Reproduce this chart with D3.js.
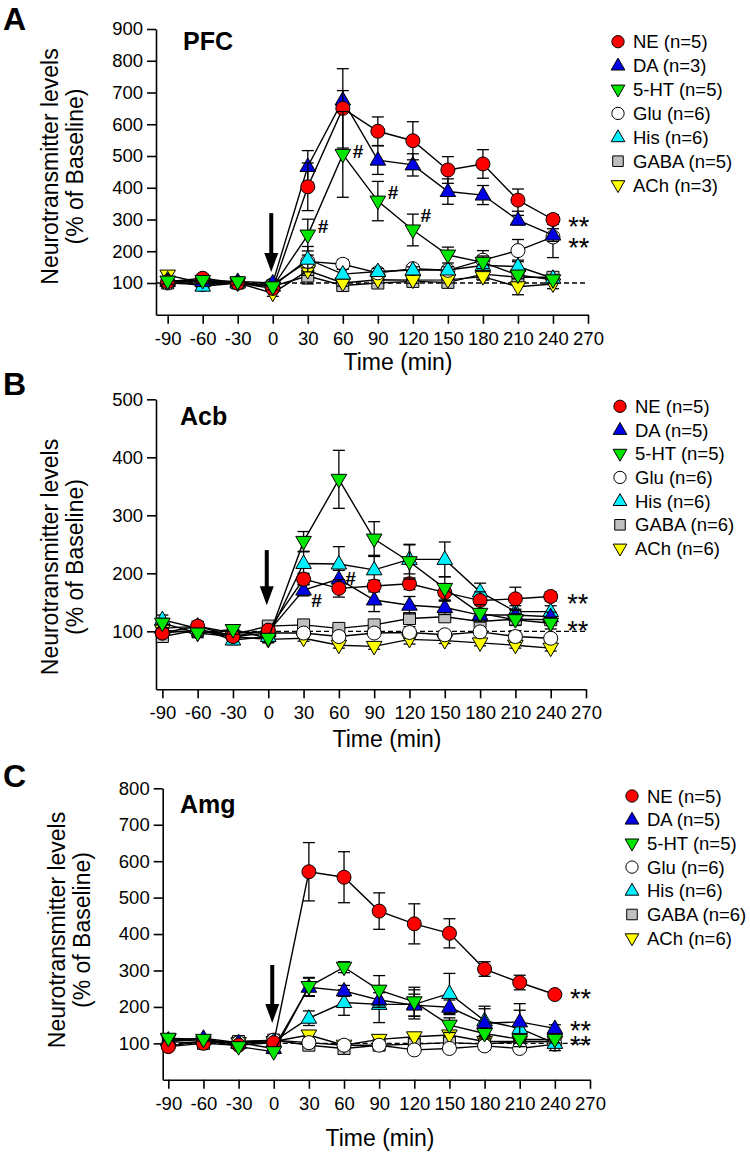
<!DOCTYPE html>
<html><head><meta charset="utf-8">
<script src="https://cdn.jsdelivr.net/npm/d3@7"></script>
<style>body{margin:0;background:#fff} svg{display:block;font-family:Arial,"Liberation Sans",sans-serif}</style>
</head><body><svg id="c" width="750" height="1155"></svg>
<script>
// ---------- shared data ----------
const times = [-90,-60,-30,0,30,60,90,120,150,180,210,240];
const xTickValues = [-90,-60,-30,0,30,60,90,120,150,180,210,240,270];
const seriesNames = ["NE","DA","5-HT","Glu","His","GABA","ACh"];
const seriesColors = ["#ff0000","#0000e6","#00e600","#ffffff","#00f0ff","#c0c0c0","#ffff00"];
const seriesShapes = ["circle","up","down","circle","up","square","down"];
const drawOrder = [5,6,3,4,1,0,2]; // bottom -> top: GABA, ACh, Glu, His, DA, NE, 5-HT

// ---------- A: PFC ----------
const pfcN = [5,3,5,6,6,5,3];
const pfcYTicks = [100,200,300,400,500,600,700,800,900];
const pfcNE   = [104,115,100,83,403,650,578,548,456,475,361,300];
const pfcNEe  = [10,12,10,10,75,125,45,60,42,45,35,15];
const pfcDA   = [105,105,105,100,467,676,487,472,388,377,298,251];
const pfcDAe  = [10,10,10,10,50,30,45,35,40,30,15,20];
const pfc5HT  = [106,108,104,88,251,505,358,267,188,165,125,110];
const pfc5HTe = [10,10,10,10,50,135,62,50,25,20,10,10];
const pfcGlu  = [100,95,100,95,168,159,132,145,140,172,202,245];
const pfcGlue = [10,10,10,10,20,15,10,10,10,30,35,65];
const pfcHis  = [110,90,100,90,175,128,136,141,141,155,152,115];
const pfcHise = [10,10,10,10,40,15,10,10,10,15,20,10];
const pfcGABA = [100,100,100,90,122,92,100,105,102,128,118,118];
const pfcGABAe= [10,10,10,10,25,10,10,10,10,10,10,10];
const pfcACh  = [125,100,100,68,139,100,110,109,110,120,88,97];
const pfcAChe = [10,10,10,10,15,10,10,10,10,10,25,15];
const pfcHash = [[43,277],[73,514],[103,384],[131,314]];
const pfcStars = [[262,300],[262,235]];
const pfcArrow = [320,135];

// ---------- B: Acb ----------
const acbN = [5,5,5,6,6,6,6];
const acbYTicks = [100,200,300,400,500];
const acbNE   = [97,109,91,102,190,174,178,182,167,153,156,160];
const acbNEe  = [8,8,8,8,10,15,10,10,15,15,20,8];
const acbDA   = [105,109,97,99,171,190,154,145,141,128,128,125];
const acbDAe  = [8,8,8,8,10,15,20,15,12,10,10,8];
const acb5HT  = [114,97,103,88,255,362,259,220,174,131,120,114];
const acb5HTe = [8,8,8,8,17,50,30,30,20,15,10,10];
const acbGlu  = [97,102,91,97,97,91,97,98,94,99,91,88];
const acbGlue = [5,5,5,5,5,5,5,10,5,5,10,5];
const acbHis  = [120,105,85,91,217,216,206,224,224,168,134,134];
const acbHise = [8,8,8,8,20,30,25,25,30,15,10,10];
const acbGABA = [91,102,94,109,111,105,111,122,125,117,121,120];
const acbGABAe= [5,5,5,5,5,5,5,5,5,5,5,5];
const acbACh  = [102,97,91,86,88,76,74,86,84,80,76,71];
const acbAChe = [5,5,5,5,5,5,5,8,5,5,5,5];
const acbHash = [[41,154],[70,191]];
const acbStars = [[263,160],[263,114]];
const acbArrow = [240,145];

// ---------- C: Amg ----------
const amgN = [5,5,5,6,6,6,6];
const amgYTicks = [100,200,300,400,500,600,700,800];
const amgNE   = [91,100,95,102,571,556,463,428,402,304,267,234];
const amgNEe  = [5,5,5,5,80,70,50,55,40,20,20,5];
const amgDA   = [109,114,102,86,254,244,219,205,199,155,159,141];
const amgDAe  = [5,5,5,5,25,15,20,30,20,40,50,10];
const amg5HT  = [114,111,91,77,256,309,246,214,150,127,111,111];
const amg5HTe = [5,5,5,5,25,15,40,40,20,15,10,10];
const amgGlu  = [93,105,102,109,102,95,95,82,86,93,86,98];
const amgGlue = [5,5,5,5,5,5,5,5,5,5,5,5];
const amgHis  = [107,111,100,105,169,212,207,207,237,162,141,100];
const amgHise = [5,5,5,5,20,35,50,40,55,40,50,20];
const amgGABA = [105,100,105,109,95,86,95,98,102,98,105,105];
const amgGABAe= [5,5,5,5,5,5,5,5,5,5,5,5];
const amgACh  = [111,105,102,105,123,95,111,118,123,105,105,105];
const amgAChe = [5,5,5,5,5,5,5,5,5,5,5,5];
const amgHash = [];
const amgStars = [[262,242],[262,155],[262,114]];
const amgArrow = [315,156];

// ---------- layout ----------
const panels = [
  {letter:"A", region:"PFC", n:pfcN, yTicks:pfcYTicks, yMax:900, xMin:-100,
   vals:[pfcNE,pfcDA,pfc5HT,pfcGlu,pfcHis,pfcGABA,pfcACh],
   errs:[pfcNEe,pfcDAe,pfc5HTe,pfcGlue,pfcHise,pfcGABAe,pfcAChe],
   hash:pfcHash, stars:pfcStars, arrow:pfcArrow,
   x0:156, x1:588, yTop:29, yBot:314.75,
   letterPos:[3,30], regionPos:[183,50], titleC:[58,83,166.5], timePos:[398,370], tickBase:8,
   legend:{mx:618, tx:633, y0:41.7, dy:23.9}},
  {letter:"B", region:"Acb", n:acbN, yTicks:acbYTicks, yMax:500, xMin:-95.4,
   vals:[acbNE,acbDA,acb5HT,acbGlu,acbHis,acbGABA,acbACh],
   errs:[acbNEe,acbDAe,acb5HTe,acbGlue,acbHise,acbGABAe,acbAChe],
   hash:acbHash, stars:acbStars, arrow:acbArrow,
   x0:156, x1:586, yTop:399.3, yBot:689.3,
   letterPos:[3,395], regionPos:[180,425], titleC:[58,83,557], timePos:[387,747], tickBase:8,
   legend:{mx:620, tx:635, y0:406.3, dy:23.7}},
  {letter:"C", region:"Amg", n:amgN, yTicks:amgYTicks, yMax:800, xMin:-94.8,
   vals:[amgNE,amgDA,amg5HT,amgGlu,amgHis,amgGABA,amgACh],
   errs:[amgNEe,amgDAe,amg5HTe,amgGlue,amgHise,amgGABAe,amgAChe],
   hash:amgHash, stars:amgStars, arrow:amgArrow,
   x0:162.7, x1:590, yTop:788.3, yBot:1079.8,
   letterPos:[3,787], regionPos:[180,813], titleC:[65,90,930], timePos:[380,1146], tickBase:8,
   legend:{mx:632, tx:647, y0:796, dy:23.7}}
];

const svg = d3.select("#c");

function symPath(shape, k){
  k = k||1;
  const p = d3.path();
  if(shape==="circle"){ p.arc(0,0,7*k,0,2*Math.PI); p.closePath(); }
  else if(shape==="up"){ p.moveTo(0,-8.5*k); p.lineTo(7.8*k,5*k); p.lineTo(-7.8*k,5*k); p.closePath(); }
  else if(shape==="down"){ p.moveTo(0,8.5*k); p.lineTo(7.8*k,-5*k); p.lineTo(-7.8*k,-5*k); p.closePath(); }
  else { p.rect(-6*k,-6*k,12*k,12*k); }
  return p.toString();
}

panels.forEach(P=>{
  const g = svg.append("g");
  const x = d3.scaleLinear().domain([P.xMin,270]).range([P.x0,P.x1]);
  const y = d3.scaleLinear().domain([0,P.yMax]).range([P.yBot,P.yTop]);

  // axes
  const fmt = d => String(d);
  const ya = d3.axisLeft(y).tickValues(P.yTicks).tickFormat(fmt).tickSize(9).tickSizeOuter(0).tickPadding(4);
  const yg = g.append("g").attr("transform",`translate(${P.x0},0)`).call(ya);
  const xa = d3.axisBottom(x).tickValues(xTickValues).tickFormat(fmt).tickSize(9).tickSizeOuter(0).tickPadding(P.tickBase);
  const xg = g.append("g").attr("transform",`translate(0,${P.yBot})`).call(xa);
  [yg,xg].forEach(a=>{
    a.selectAll("path,line").attr("stroke","#000").attr("stroke-width",1.6);
    a.selectAll("text").attr("fill","#000").attr("font-size","18.5px").attr("font-family","Arial, Liberation Sans, sans-serif");
  });

  // baseline dashed line
  g.append("line").attr("x1",P.x0).attr("x2",P.x1).attr("y1",y(100)).attr("y2",y(100))
    .attr("stroke","#000").attr("stroke-width",1.3).attr("stroke-dasharray","5,3");

  // labels
  g.append("text").attr("x",P.letterPos[0]).attr("y",P.letterPos[1]).text(P.letter)
    .attr("font-size","32px").attr("font-weight","bold");
  g.append("text").attr("x",P.regionPos[0]).attr("y",P.regionPos[1]).text(P.region)
    .attr("font-size","25px").attr("font-weight","bold");
  g.append("text").attr("transform",`translate(${P.titleC[0]},${P.titleC[2]}) rotate(-90)`)
    .attr("text-anchor","middle").attr("font-size","23px").text("Neurotransmitter levels");
  g.append("text").attr("transform",`translate(${P.titleC[1]},${P.titleC[2]}) rotate(-90)`)
    .attr("text-anchor","middle").attr("font-size","23px").text("(% of Baseline)");
  g.append("text").attr("x",P.timePos[0]).attr("y",P.timePos[1]).attr("text-anchor","middle")
    .attr("font-size","23px").text("Time (min)");

  // arrow
  const ax = x(0)-1.5, ya0 = y(P.arrow[0]), ya1 = y(P.arrow[1]);
  g.append("line").attr("x1",ax).attr("x2",ax).attr("y1",ya0).attr("y2",ya1-16)
    .attr("stroke","#000").attr("stroke-width",4);
  g.append("path").attr("d",`M${ax-7},${ya1-19} L${ax+7},${ya1-19} L${ax},${ya1} Z`).attr("fill","#000");

  // series
  const line = d3.line().x((d,i)=>x(times[i])).y(d=>y(d));
  drawOrder.forEach(s=>{
    const vals = P.vals[s], errs = P.errs[s];
    const sg = g.append("g");
    vals.forEach((v,i)=>{
      const cx = x(times[i]), lo = y(v-errs[i]), hi = y(v+errs[i]);
      sg.append("line").attr("x1",cx).attr("x2",cx).attr("y1",lo).attr("y2",hi).attr("stroke","#000").attr("stroke-width",1.3);
      sg.append("line").attr("x1",cx-6).attr("x2",cx+6).attr("y1",lo).attr("y2",lo).attr("stroke","#000").attr("stroke-width",1.3);
      sg.append("line").attr("x1",cx-6).attr("x2",cx+6).attr("y1",hi).attr("y2",hi).attr("stroke","#000").attr("stroke-width",1.3);
    });
    sg.append("path").attr("d",line(vals)).attr("fill","none").attr("stroke","#000").attr("stroke-width",1.4);
    sg.selectAll(".m").data(vals).enter().append("path")
      .attr("transform",(d,i)=>`translate(${x(times[i])},${y(d)})`)
      .attr("d",symPath(seriesShapes[s])).attr("fill",seriesColors[s]).attr("stroke","#000").attr("stroke-width",1);
  });

  // annotations
  P.hash.forEach(h=>{
    g.append("text").attr("x",x(h[0])).attr("y",y(h[1])).attr("dy","0.35em").attr("text-anchor","middle")
      .attr("font-size","19px").attr("font-weight","bold").text("#");
  });
  // stacked significance marks as one multi-line label
  const st = g.append("text").attr("text-anchor","middle").attr("font-size","27px");
  P.stars.forEach(h=>{
    st.append("tspan").attr("x",x(h[0])).attr("y",y(h[1])+0.62*27).text("**");
  });

  // legend
  seriesNames.forEach((nm,i)=>{
    const ly = P.legend.y0 + i*P.legend.dy;
    g.append("path").attr("transform",`translate(${P.legend.mx},${ly})`).attr("d",symPath(seriesShapes[i],0.88))
      .attr("fill",seriesColors[i]).attr("stroke","#000").attr("stroke-width",1);
    g.append("text").attr("x",P.legend.tx).attr("y",ly).attr("dy","0.36em").attr("font-size","18.5px")
      .text(`${nm} (n=${P.n[i]})`);
  });
});
</script></body></html>
